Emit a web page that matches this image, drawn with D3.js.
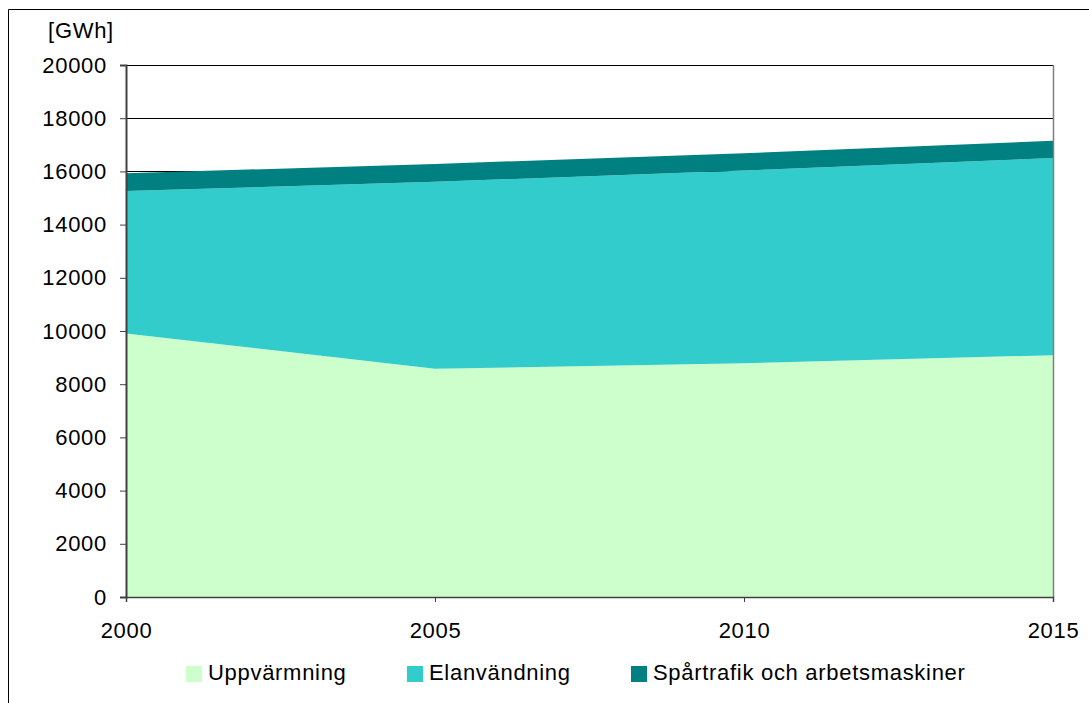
<!DOCTYPE html>
<html>
<head>
<meta charset="utf-8">
<script src="https://cdn.jsdelivr.net/npm/d3@7"></script>
<style>
  html, body { margin: 0; padding: 0; background: #fff; }
  svg { display: block; }
  text { font-family: "Liberation Sans", Arial, sans-serif; fill: #000; }
</style>
</head>
<body>
<svg id="chart" width="1089" height="703"></svg>
<script>
// Energy use by category, GWh
const years = [2000, 2005, 2010, 2015];
const uppvarmning = [9910, 8580, 8790, 9090];
const elanvandning = [5350, 7030, 7240, 7410];
const spartrafik = [670, 670, 650, 650];
const seriesNames = ["Uppvärmning", "Elanvändning", "Spårtrafik och arbetsmaskiner"];
const seriesColors = ["#CCFFCC", "#33CCCC", "#008080"];
const yTicks = [0, 2000, 4000, 6000, 8000, 10000, 12000, 14000, 16000, 18000, 20000];
const unitLabel = "[GWh]";

const FONT_SIZE = "22px";
const SPACING = "0.7px";

const svg = d3.select("#chart");
const W = 1089, H = 703;
const plot = { left: 126, right: 1053, top: 65, bottom: 597 };

// outer frame
svg.append("path")
  .attr("d", `M8.5,${H + 2} V9.5 H${W + 2}`)
  .attr("fill", "none").attr("stroke", "#000").attr("stroke-width", 1);

const x = d3.scaleLinear().domain([2000, 2015]).range([plot.left, plot.right]);
const y = d3.scaleLinear().domain([0, 20000]).range([plot.bottom, plot.top]);

const rows = years.map((yr, i) => ({
  year: yr,
  [seriesNames[0]]: uppvarmning[i],
  [seriesNames[1]]: elanvandning[i],
  [seriesNames[2]]: spartrafik[i]
}));
const stacked = d3.stack().keys(seriesNames)(rows);

// gridlines
svg.append("g").selectAll("line").data(yTicks.filter(t => t > 0)).join("line")
  .attr("x1", plot.left).attr("x2", plot.right)
  .attr("y1", d => Math.round(y(d)) + 0.5).attr("y2", d => Math.round(y(d)) + 0.5)
  .attr("stroke", "#000").attr("stroke-width", 1);

// stacked areas
const area = d3.area()
  .x(d => x(d.data.year))
  .y0(d => y(d[0]))
  .y1(d => y(d[1]));
svg.append("g").selectAll("path").data(stacked).join("path")
  .attr("d", area)
  .attr("fill", (d, i) => seriesColors[i]);

// right border of plot
svg.append("line")
  .attr("x1", plot.right + 0.5).attr("x2", plot.right + 0.5)
  .attr("y1", plot.top).attr("y2", plot.bottom)
  .attr("stroke", "#808080").attr("stroke-width", 1.5);

function styleText(sel) {
  sel.style("font-family", '"Liberation Sans", Arial, sans-serif')
    .style("font-size", FONT_SIZE).style("letter-spacing", SPACING).attr("fill", "#000");
}

// y axis
const yAxis = d3.axisLeft(y).tickValues(yTicks).tickSize(6).tickPadding(13).tickFormat(d3.format("d"));
const gy = svg.append("g").attr("transform", `translate(${plot.left},0)`).call(yAxis);
gy.select(".domain").attr("stroke", "#404040").attr("stroke-width", 2);
gy.selectAll(".tick line").attr("stroke", "#404040");
gy.selectAll(".tick text").call(styleText);

// x axis
const xAxis = d3.axisBottom(x).tickValues(years).tickSize(5).tickPadding(20).tickFormat(d3.format("d"));
const gx = svg.append("g").attr("transform", `translate(0,${plot.bottom})`).call(xAxis);
gx.select(".domain").attr("stroke", "#404040").attr("stroke-width", 1.5);
gx.selectAll(".tick line").attr("stroke", "#404040");
gx.selectAll(".tick text").call(styleText);

// unit label
svg.append("text").attr("x", 81).attr("y", 38).attr("text-anchor", "middle")
  .call(styleText).text(unitLabel);

// legend
const legendX = [186, 407, 631];
const lg = svg.append("g").selectAll("g").data(seriesNames).join("g")
  .attr("transform", (d, i) => `translate(${legendX[i]},666)`);
lg.append("rect").attr("width", 16).attr("height", 16).attr("fill", (d, i) => seriesColors[i]);
lg.append("text").attr("x", 22).attr("y", 14).call(styleText).text(d => d);
</script>
</body>
</html>
